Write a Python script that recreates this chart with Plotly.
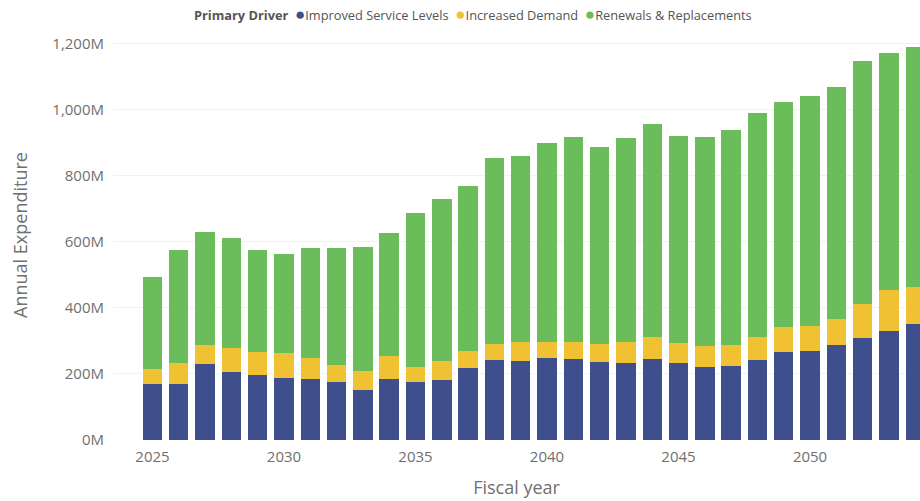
import plotly.graph_objects as go

years = list(range(2025, 2055))

improved_service = [170, 170, 230, 205, 198, 189, 185, 176, 151, 185, 177, 181, 217, 242, 240,
                    249, 245, 237, 234, 246, 232, 221, 224, 242, 265, 269, 288, 309, 330, 352]
increased_demand = [45, 62, 57, 72, 67, 73, 64, 50, 59, 70, 44, 59, 53, 48, 56,
                    49, 51, 53, 62, 65, 62, 64, 64, 71, 78, 76, 79, 103, 124, 112]
renewals = [278, 343, 342, 334, 310, 301, 332, 356, 374, 372, 467, 490, 499, 564, 564,
            602, 621, 597, 618, 645, 626, 633, 651, 677, 680, 696, 701, 735, 717, 725]

series = [
    ("Improved Service Levels", improved_service, "#3F4F8E"),
    ("Increased Demand", increased_demand, "#F0C233"),
    ("Renewals & Replacements", renewals, "#6BBC5B"),
]

y_ticks = [0, 200, 400, 600, 800, 1000, 1200]
y_tick_text = [f"{v:,}M" for v in y_ticks]
x_ticks = [2025, 2030, 2035, 2040, 2045, 2050]

fig = go.Figure()
for name, vals, color in series:
    fig.add_trace(go.Bar(x=years, y=vals, name=name, marker_color=color,
                         marker_line_width=0, width=0.74, showlegend=False))

sp = "\u00a0"
legend_text = "<b>Primary Driver</b>" + "".join(
    f"{sp}{sp}<span style='color:{c};font-size:17px'>●</span>{n}" for n, _, c in series)

txt = "#707070"
fig.update_layout(
    width=920, height=501,
    barmode="stack",
    showlegend=False,
    plot_bgcolor="white", paper_bgcolor="white",
    margin=dict(l=113, r=0, t=30, b=61),
    font=dict(family="Open Sans", color=txt),
    annotations=[dict(text=legend_text, xref="paper", yref="paper", x=0.446, y=1.0,
                      xanchor="center", yanchor="bottom", yshift=3, showarrow=False,
                      font=dict(size=12.8, color="#555"))],
    xaxis=dict(range=[2023.5, 2054.18], tickvals=x_ticks, ticks="", showgrid=False,
               tickfont=dict(size=15, color=txt), zeroline=False, automargin=False,
               ticklabelstandoff=6,
               title=dict(text="Fiscal year", font=dict(size=18, color=txt), standoff=16)),
    yaxis=dict(range=[0, 1241], tickvals=y_ticks, ticktext=y_tick_text,
               tickfont=dict(size=15, color=txt), showgrid=True, gridcolor="#F2F2F2",
               zeroline=False, ticklabelstandoff=8, automargin=False,
               title=dict(text="Annual Expenditure", font=dict(size=18, color=txt), standoff=20)),
)

fig.write_html("out.html", config={"displayModeBar": False},
               post_script="document.body.style.margin='0';")
